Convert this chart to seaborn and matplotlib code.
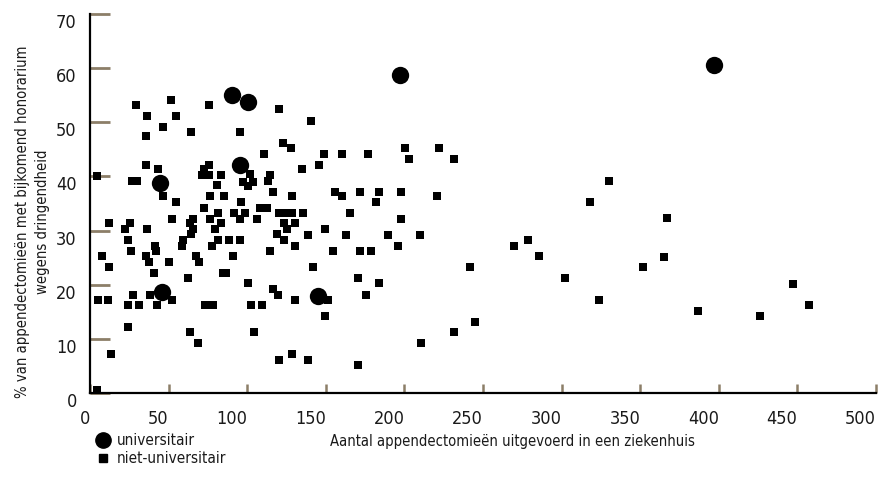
import numpy as np
import pandas as pd
import seaborn as sns
import matplotlib.pyplot as plt
from matplotlib import font_manager as fm
from matplotlib.lines import Line2D

# universitaire ziekenhuizen
univ_x = [90.1, 100.7, 95.4, 44.5, 45.6, 144.8, 197.0, 397.1]
univ_y = [55.0, 53.7, 42.1, 38.8, 18.7, 17.8, 58.8, 60.7]

# niet-universitaire ziekenhuizen
niet_x = [29.3, 36.0, 35.4, 51.3, 54.5, 46.2, 64.0, 75.5, 95.2, 120.0,
          122.6, 127.7, 110.5, 140.6, 148.7, 160.3, 176.8, 200.4, 222.0, 202.9,
          231.6, 145.7, 134.9, 35.4, 43.3, 4.3, 27.0, 29.7, 71.0, 75.5,
          75.5, 72.3, 83.1, 80.6, 101.8, 97.5, 103.9, 100.3, 114.5, 113.0,
          116.2, 46.2, 54.5, 76.1, 85.0, 96.3, 128.3, 155.9, 160.3, 171.8,
          183.8, 197.8, 181.9, 220.7, 72.3, 108.0, 112.4, 81.2, 91.4, 98.4,
          120.0, 123.2, 128.5, 135.5, 165.4, 52.0, 65.3, 76.1, 95.2, 106.0,
          197.8, 11.9, 25.3, 63.4, 83.1, 123.2, 130.4, 22.1, 36.0, 65.3,
          79.3, 125.1, 149.5, 64.0, 118.8, 138.7, 162.8, 189.4, 209.9, 24.0,
          59.0, 81.2, 88.2, 95.2, 123.2, 278.4, 41.2, 58.3, 77.4, 130.2,
          195.7, 269.7, 41.8, 25.9, 114.3, 154.4, 171.8, 178.6, 7.4, 35.4,
          67.2, 91.0, 285.4, 365.1, 11.9, 37.3, 50.3, 69.1, 141.7, 241.7,
          351.8, 40.5, 84.5, 86.5, 62.2, 170.3, 302.0, 100.3, 183.8, 447.3,
          116.2, 27.2, 38.0, 119.4, 175.4, 4.9, 11.2, 52.0, 130.2, 151.2,
          323.8, 24.0, 31.0, 42.4, 72.9, 78.0, 102.2, 109.2, 457.1, 386.5,
          149.3, 426.4, 244.9, 24.0, 63.4, 104.1, 231.6, 68.5, 210.6, 13.2,
          128.3, 120.0, 138.7, 170.3, 330.2, 318.0, 366.8, 4.3]
niet_y = [53.3, 51.2, 47.4, 54.2, 51.2, 49.2, 48.3, 53.3, 48.3, 52.4,
          46.2, 45.3, 44.2, 50.3, 44.2, 44.2, 44.2, 45.3, 45.3, 43.3,
          43.3, 42.2, 41.3, 42.2, 41.3, 40.1, 39.2, 39.2, 40.3, 40.3,
          42.2, 41.3, 40.3, 38.5, 40.4, 39.0, 39.0, 38.2, 40.3, 39.2,
          37.2, 36.3, 35.3, 36.3, 36.3, 35.3, 36.3, 37.2, 36.3, 37.2,
          37.2, 37.2, 35.3, 36.3, 34.2, 34.2, 34.2, 33.3, 33.3, 33.3,
          33.3, 33.3, 33.3, 33.3, 33.3, 32.2, 32.2, 32.2, 32.2, 32.2,
          32.2, 31.3, 31.3, 31.3, 31.3, 31.3, 31.3, 30.2, 30.2, 30.2,
          30.2, 30.2, 30.2, 29.4, 29.4, 29.2, 29.2, 29.2, 29.2, 28.3,
          28.3, 28.3, 28.3, 28.3, 28.3, 28.3, 27.2, 27.2, 27.2, 27.2,
          27.2, 27.2, 26.3, 26.3, 26.3, 26.3, 26.3, 26.3, 25.2, 25.2,
          25.2, 25.2, 25.2, 25.1, 23.3, 24.2, 24.2, 24.2, 23.3, 23.3,
          23.3, 22.2, 22.2, 22.2, 21.3, 21.3, 21.3, 20.2, 20.2, 20.1,
          19.2, 18.1, 18.1, 18.1, 18.1, 17.2, 17.2, 17.2, 17.2, 17.2,
          17.2, 16.3, 16.3, 16.3, 16.3, 16.3, 16.3, 16.3, 16.3, 15.2,
          14.2, 14.2, 13.1, 12.2, 11.3, 11.3, 11.3, 9.2, 9.2, 7.2,
          7.2, 6.1, 6.1, 5.2, 39.2, 35.3, 32.4, 0.5]

x_ticks = list(range(0, 501, 50))
y_ticks = list(range(0, 71, 10))

xlabel = 'Aantal appendectomieën uitgevoerd in een ziekenhuis'
ylabel = '% van appendectomieën met bijkomend honorarium\nwegens dringendheid'
legend_labels = ['universitair', 'niet-universitair']

univ = pd.DataFrame({'x': univ_x, 'y': univ_y})
niet = pd.DataFrame({'x': niet_x, 'y': niet_y})

sns.set_style('white')

# the original uses a condensed sans; take one if there is any
narrow = None
for f in fm.fontManager.ttflist:
    n = f.name.lower()
    if f.style != 'normal' or f.weight not in (400, 'normal', 'regular', 'book'):
        continue
    if f.stretch in ('condensed', 'semi-condensed') or 'narrow' in n or 'condensed' in n:
        narrow = f
        break
if narrow is not None:
    plt.rcParams['font.family'] = [narrow.name, 'DejaVu Sans']
    plt.rcParams['font.stretch'] = narrow.stretch
else:
    plt.rcParams['font.family'] = ['Liberation Sans', 'DejaVu Sans']

tick_col = '#8c7e68'
txt_col = '#1a1a1a'

fig = plt.figure(figsize=(8.79, 4.8), dpi=100)

# scale label text so the x label is about as wide as in the original
probe = fig.text(0, 0, xlabel, fontsize=13)
fig.canvas.draw()
k = min(1.0, 362 / probe.get_window_extent().width)
probe.remove()
lab_size = 13 * k
leg_size = 13.5 * k

ax = fig.add_axes([0.1024, 0.1819, 0.8942, 0.7883])

sns.scatterplot(data=univ, x='x', y='y', marker='o', s=156, color='black',
                linewidth=0, ax=ax)
sns.scatterplot(data=niet, x='x', y='y', marker='s', s=33, color='black',
                linewidth=0, ax=ax)

ax.set_xlim(0, 500)
ax.set_ylim(0, 70)
ax.set_xticks(x_ticks)
ax.set_yticks(y_ticks)

for side in ['top', 'right']:
    ax.spines[side].set_visible(False)
for side in ['left', 'bottom']:
    ax.spines[side].set_color('black')
    ax.spines[side].set_linewidth(1.6)

ax.tick_params(axis='y', direction='in', left=True, length=14.4, width=2,
               color=tick_col, labelsize=13, labelcolor=txt_col, pad=9.5)
ax.tick_params(axis='x', direction='in', bottom=True, length=6.5, width=1.8,
               color=tick_col, labelsize=13, labelcolor=txt_col, pad=12.5)
# in the original the labels hang below / left of their tick
for lbl in ax.get_yticklabels():
    lbl.set_va('top')
for lbl in ax.get_xticklabels():
    lbl.set_ha('right')

ax.set_ylabel(ylabel, fontsize=lab_size, color=txt_col, multialignment='center',
              linespacing=24 / (1.17 * lab_size * 100 / 72))
ax.yaxis.set_label_coords(-0.051, 0.451)
ax.set_xlabel(xlabel, fontsize=lab_size, color=txt_col)
ax.xaxis.set_label_coords(0.537, -0.11)

handles = [Line2D([], [], marker='o', color='black', linestyle='none', markersize=11),
           Line2D([], [], marker='s', color='black', linestyle='none', markersize=5.5)]
fig.legend(handles, legend_labels, loc='upper left',
           bbox_to_anchor=(0.108, 0.098), frameon=False, fontsize=leg_size,
           handlelength=1, handletextpad=0.45, labelspacing=0.2, borderpad=0,
           borderaxespad=0, labelcolor=txt_col)

fig.savefig('out.png', dpi=100)
